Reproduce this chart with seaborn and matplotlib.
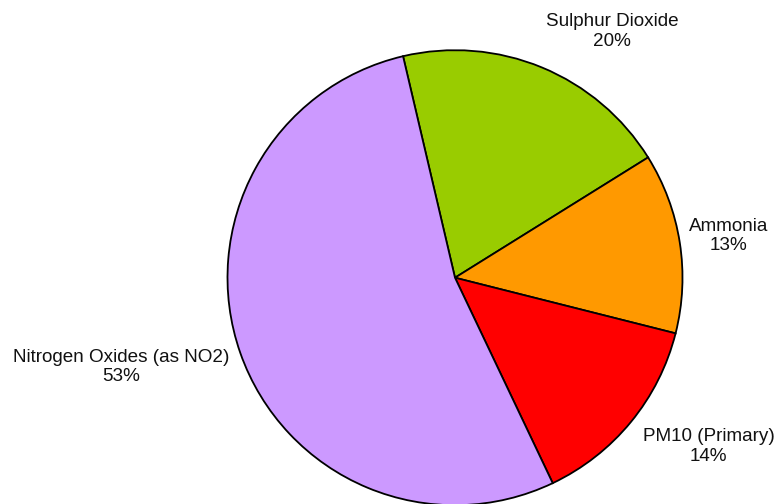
import matplotlib
matplotlib.use("Agg")
import matplotlib.pyplot as plt
import seaborn as sns

# Emission shares by pollutant (%)
pollutants = ["Sulphur Dioxide", "Ammonia", "PM10 (Primary)", "Nitrogen Oxides (as NO2)"]
shares = [19.8, 12.8, 14.0, 53.4]
colors = ["#99CC00", "#FF9900", "#FF0000", "#CC99FF"]

# Where each label block sits (data units, pie radius = 1)
label_xy = [(0.690, 1.082), (1.204, 0.183), (1.115, -0.742), (-1.468, -0.393)]

sns.set_theme(style="white")
plt.rcParams["font.family"] = ["Liberation Sans", "DejaVu Sans"]

fig = plt.figure(figsize=(7.76, 5.04), dpi=100)
ax = fig.add_axes([0, 0, 1, 1])

total = sum(shares)
wedges, _ = ax.pie(
    shares,
    colors=colors,
    startangle=103.2,
    counterclock=False,
    radius=1.0,
    wedgeprops=dict(edgecolor="black", linewidth=1.3),
)

for name, val, (x, y) in zip(pollutants, shares, label_xy):
    ax.text(x, y, f"{name}\n{val / total * 100:.0f}%", ha="center", va="center",
            fontsize=13.6, color="#111111", linespacing=1.2)

scale = 227.5
ax.set_xlim(-455 / scale, (776 - 455) / scale)
ax.set_ylim(-(504 - 277.7) / scale, 277.7 / scale)
ax.set_aspect("auto")
ax.axis("off")

fig.savefig("out.png", dpi=100, facecolor="white")
